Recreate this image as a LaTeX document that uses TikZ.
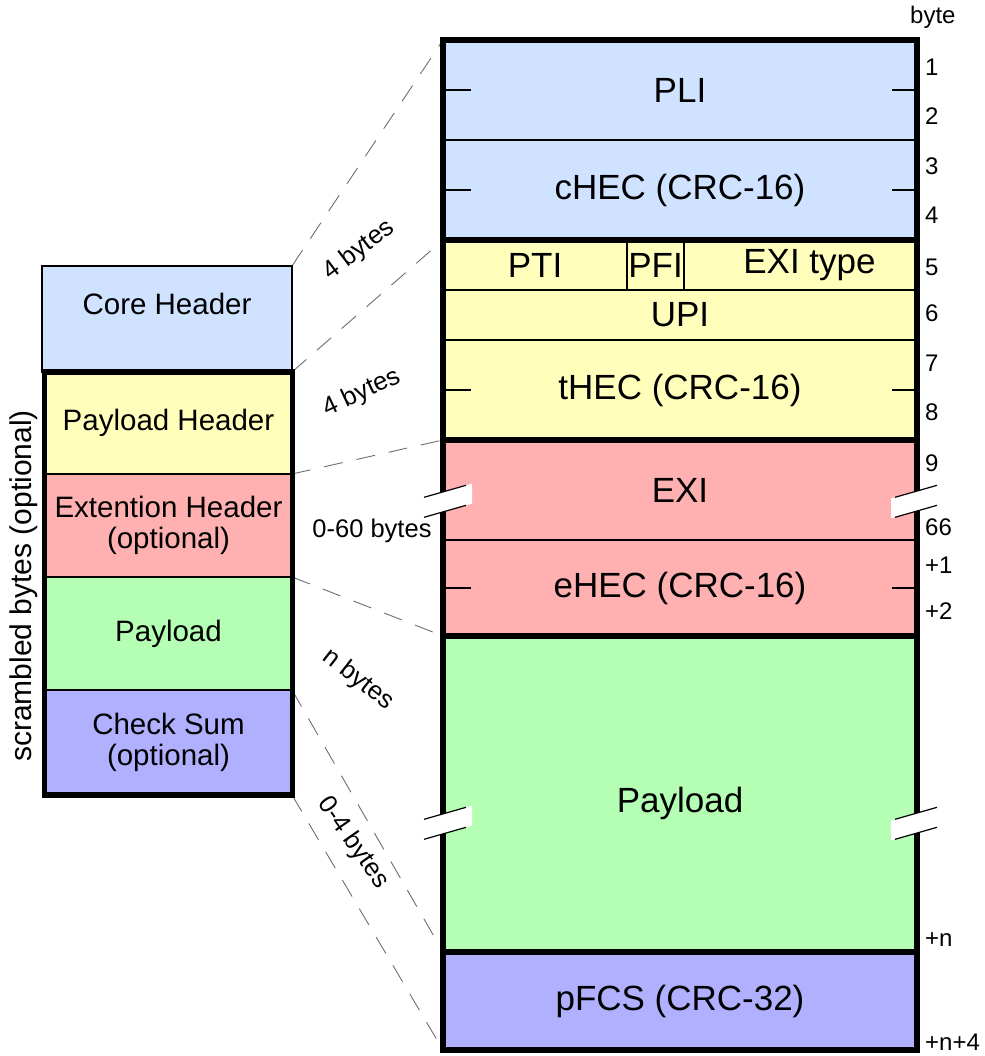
\documentclass[tikz,border=0pt]{standalone}
\usepackage{fontspec}
\setmainfont{Liberation Sans}
\definecolor{cblue}{RGB}{207,226,255}
\definecolor{cyellow}{RGB}{255,255,187}
\definecolor{cred}{RGB}{255,176,176}
\definecolor{cgreen}{RGB}{180,255,180}
\definecolor{cviolet}{RGB}{176,176,255}
\definecolor{dgray}{RGB}{110,110,110}
\begin{document}
\begin{tikzpicture}[x=1pt,y=-1pt,
  field/.style={draw, line width=1.5pt, rectangle, inner sep=0pt, outer sep=0pt, anchor=north west, font=\fontsize{35}{40}\selectfont},
  lfield/.style={draw, line width=1.5pt, rectangle, inner sep=0pt, outer sep=0pt, anchor=north west, align=center, font=\fontsize{29.5}{30.5}\selectfont},
  frm/.style={line width=5.5pt},
  tick/.style={line width=1.5pt},
  guide/.style={dgray, line width=0.9pt, dash pattern=on 19pt off 14pt},
  bytelbl/.style={anchor=west, inner sep=0pt, font=\fontsize{24}{24}\selectfont},
  sizelbl/.style={inner sep=0pt, font=\fontsize{25.5}{25.5}\selectfont},
  brkmark/.pic={
    \fill[white] (-26,-2.6) -- (26,-17.4) -- (26,2.6) -- (-26,17.4) -- cycle;
    \draw[line width=1.2pt] (-22,-3.7) -- (20,-15.7);
    \draw[line width=1.2pt] (-22,16.3) -- (20,4.3);
  }
]
\useasboundingbox (0,0) rectangle (984,1056);

% dashed guide lines (drawn first)
\coordinate (gA) at (443,40);
\coordinate (gB) at (443,240);
\coordinate (gC) at (443,440);
\coordinate (gD) at (443,636);
\coordinate (gE) at (443,952);
\coordinate (gF) at (443,1050);
\coordinate (lA) at (292,266);
\coordinate (lB) at (292,372);
\coordinate (lC) at (292,474);
\coordinate (lD) at (292,577);
\coordinate (lE) at (292,690);
\coordinate (lF) at (292,795);
\draw[guide] (lA) -- (gA);
\draw[guide] (lB) -- (gB);
\draw[guide] (lC) -- (gC);
\draw[guide] (lD) -- (gD);
\draw[guide] (lE) -- (gE);
\draw[guide] (lF) -- (gF);

% right column
\node[field, fill=cblue, minimum width=474pt, minimum height=100pt] (pli) at (443,40) {PLI};
\node[field, fill=cblue, minimum width=474pt, minimum height=100pt] (chec) at (443,140) {cHEC (CRC-16)};
\node[field, fill=cyellow, minimum width=184pt, minimum height=50pt] (pti) at (443,240) {PTI};
\node[field, fill=cyellow, minimum width=57pt, minimum height=50pt] (pfi) at (627,240) {PFI};
\node[field, fill=cyellow, minimum width=233pt, minimum height=50pt] (exit) at (684,240) {\hspace*{18pt}EXI type};
\node[field, fill=cyellow, minimum width=474pt, minimum height=50pt] (upi) at (443,290) {UPI};
\node[field, fill=cyellow, minimum width=474pt, minimum height=100pt] (thec) at (443,340) {tHEC (CRC-16)};
\node[field, fill=cred, minimum width=474pt, minimum height=100pt] (exi) at (443,440) {EXI};
\node[field, fill=cred, minimum width=474pt, minimum height=96pt] (ehec) at (443,540) {eHEC (CRC-16)};
\node[field, fill=cgreen, minimum width=474pt, minimum height=316pt, text depth=0pt] (pay) at (443,636) {\raisebox{-12pt}{Payload}};
\node[field, fill=cviolet, minimum width=474pt, minimum height=98pt] (pfcs) at (443,952) {pFCS (CRC-32)};

\draw[frm] (pli.north west) rectangle (chec.south east);
\draw[frm] (pti.north west) rectangle (thec.south east);
\draw[frm] (exi.north west) rectangle (ehec.south east);
\draw[frm] (pay.north west) rectangle (pay.south east);
\draw[frm] (pfcs.north west) rectangle (pfcs.south east);

% ticks
\foreach \n in {pli,chec,thec,ehec}{
  \draw[tick] (\n.west) -- ++(28,0);
  \draw[tick] (\n.east) -- ++(-25,0);
}

% break marks
\pic at (446,501) {brkmark};
\pic at (917,501) {brkmark};
\pic at (446,823) {brkmark};
\pic at (917,823) {brkmark};

% byte numbers
\node[bytelbl] (bbyte) at (910,17) {byte};
\node[bytelbl] (b1) at (925,67) {1};
\node[bytelbl] (b2) at (925,116) {2};
\node[bytelbl] (b3) at (925,166) {3};
\node[bytelbl] (b4) at (925,215) {4};
\node[bytelbl] (b5) at (925,267) {5};
\node[bytelbl] (b6) at (925,313) {6};
\node[bytelbl] (b7) at (925,363) {7};
\node[bytelbl] (b8) at (925,412) {8};
\node[bytelbl] (b9) at (925,463) {9};
\node[bytelbl] (b66) at (925,527) {66};
\node[bytelbl] (bp1) at (925,565) {+1};
\node[bytelbl] (bp2) at (925,611) {+2};
\node[bytelbl] (bpn) at (925,940) {+n};
\node[bytelbl] (bpn4) at (925,1042) {+n+4};

% left column
\node[lfield, fill=cblue, minimum width=250pt, minimum height=106pt] (core) at (42,266) {};
\node[inner sep=0pt, font=\fontsize{29.5}{30.5}\selectfont] (coreT) at (167,304) {Core Header};
\node[lfield, fill=cyellow, minimum width=248pt, minimum height=102pt] (ph) at (44.5,372) {Payload Header};
\node[lfield, fill=cred, minimum width=248pt, minimum height=103pt] (eh) at (44.5,474) {Extention Header\\(optional)};
\node[lfield, fill=cgreen, minimum width=248pt, minimum height=113pt] (lp) at (44.5,577) {Payload};
\node[lfield, fill=cviolet, minimum width=248pt, minimum height=105pt] (cs) at (44.5,690) {Check Sum\\(optional)};
\draw[frm] (ph.north west) rectangle (cs.south east);

\node[rotate=90, inner sep=0pt, font=\fontsize{30}{31}\selectfont] (scr) at (24,586) {scrambled bytes (optional)};

% size labels
\node[sizelbl, rotate=37] (s1) at (359,250) {4 bytes};
\node[sizelbl, rotate=25] (s2) at (362,393) {4 bytes};
\node[sizelbl] (s3) at (372,531) {0-60 bytes};
\node[sizelbl, rotate=-38] (s4) at (358,680) {n bytes};
\node[sizelbl, rotate=-55] (s5) at (353,843) {0-4 bytes};
\end{tikzpicture}
\end{document}
